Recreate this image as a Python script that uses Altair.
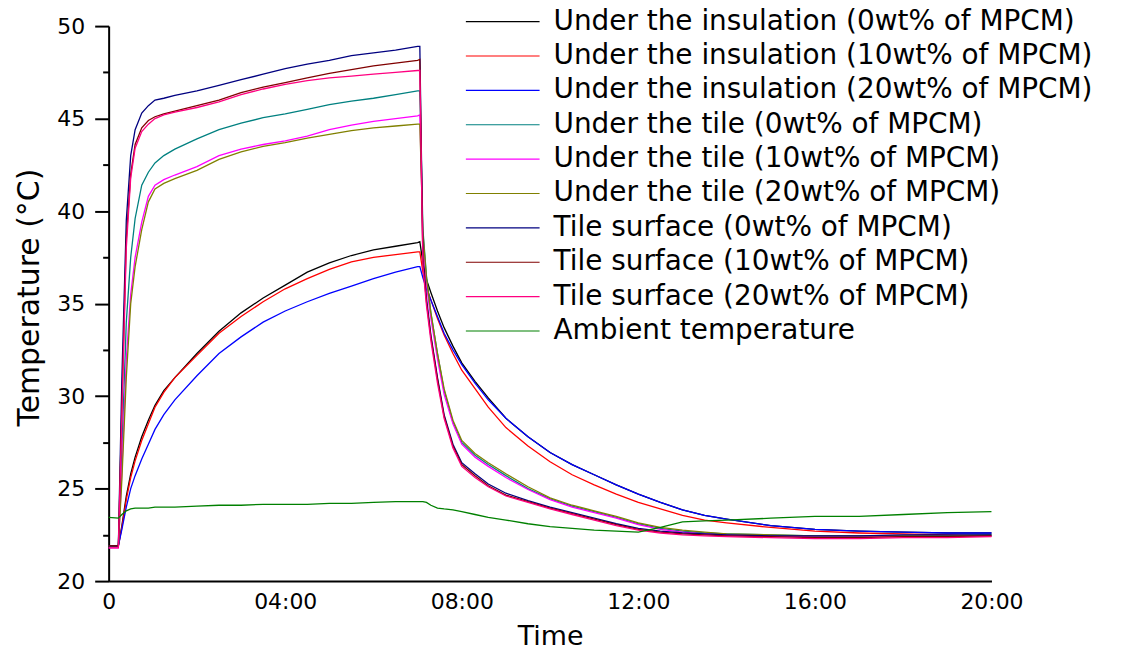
import altair as alt
import pandas as pd

# ---------------- data ----------------
hours = [0, 0.22, 0.3, 0.4, 0.5, 0.6, 0.75, 0.9, 1.05, 1.25,
         1.5, 2, 2.5, 3, 3.5, 4, 4.5, 5, 5.5, 6,
         6.5, 7.0, 7.05, 7.12, 7.2, 7.3, 7.45, 7.6, 7.8, 8.0,
         8.3, 8.6, 9.0, 9.5, 10, 10.5, 11, 11.5, 12, 12.5,
         13, 13.5, 14, 15, 16, 17, 18, 19, 20]

series_names = [
    "Under the insulation (0wt% of MPCM)",
    "Under the insulation (10wt% of MPCM)",
    "Under the insulation (20wt% of MPCM)",
    "Under the tile (0wt% of MPCM)",
    "Under the tile (10wt% of MPCM)",
    "Under the tile (20wt% of MPCM)",
    "Tile surface (0wt% of MPCM)",
    "Tile surface (10wt% of MPCM)",
    "Tile surface (20wt% of MPCM)",
    "Ambient temperature",
]

series_colors = ["#000000", "#FF0000", "#0000FF", "#008080", "#FF00FF",
                 "#808000", "#000080", "#800000", "#FF0080", "#008000"]

ins_0 = [21.9, 21.9, 23.0, 24.6, 25.8, 26.7, 27.8, 28.7, 29.5, 30.3,
         31.0, 32.3, 33.5, 34.5, 35.3, 36.0, 36.7, 37.2, 37.6, 37.9,
         38.1, 38.3, 38.35, 37.2, 36.3, 35.6, 34.6, 33.7, 32.7, 31.8,
         30.8, 29.9, 28.8, 27.8, 26.95, 26.3, 25.75, 25.2, 24.7, 24.25,
         23.85, 23.55, 23.35, 23.0, 22.8, 22.7, 22.65, 22.6, 22.6]
ins_10 = [21.9, 21.9, 22.9, 24.4, 25.6, 26.5, 27.6, 28.5, 29.4, 30.2,
          31.0, 32.2, 33.4, 34.3, 35.1, 35.8, 36.35, 36.85, 37.25, 37.5,
          37.65, 37.8, 37.8, 36.7, 35.9, 35.2, 34.2, 33.3, 32.3, 31.4,
          30.4, 29.4, 28.3, 27.3, 26.45, 25.75, 25.2, 24.7, 24.25, 23.9,
          23.55, 23.3, 23.15, 22.9, 22.7, 22.6, 22.55, 22.5, 22.45]
ins_20 = [21.9, 21.9, 22.8, 24.0, 25.0, 25.7, 26.6, 27.4, 28.2, 29.0,
          29.8, 31.1, 32.3, 33.2, 34.0, 34.6, 35.1, 35.55, 35.95, 36.35,
          36.7, 37.0, 37.0, 36.4, 35.8, 35.2, 34.3, 33.4, 32.5, 31.7,
          30.7, 29.8, 28.8, 27.8, 26.95, 26.3, 25.75, 25.2, 24.7, 24.25,
          23.85, 23.55, 23.35, 23.0, 22.8, 22.7, 22.65, 22.6, 22.6]
tile_0 = [21.9, 21.9, 27.0, 34.0, 37.5, 39.6, 41.4, 42.1, 42.6, 43.0,
          43.35, 43.9, 44.4, 44.75, 45.05, 45.25, 45.5, 45.75, 45.95, 46.1,
          46.3, 46.5, 46.5, 39.0, 36.5, 34.5, 32.3, 30.3, 28.6, 27.5,
          26.8, 26.3, 25.7, 25.0, 24.45, 24.05, 23.75, 23.45, 23.1, 22.85,
          22.7, 22.6, 22.55, 22.5, 22.45, 22.45, 22.45, 22.45, 22.5]
tile_10 = [21.8, 21.8, 26.0, 32.0, 35.5, 37.5, 39.4, 40.8, 41.4, 41.7,
           41.95, 42.4, 43.0, 43.35, 43.6, 43.8, 44.05, 44.4, 44.65, 44.85,
           45.0, 45.15, 45.2, 38.5, 36.0, 34.2, 32.0, 30.1, 28.5, 27.4,
           26.7, 26.2, 25.6, 24.95, 24.4, 24.0, 23.7, 23.4, 23.05, 22.8,
           22.65, 22.55, 22.5, 22.45, 22.4, 22.4, 22.4, 22.4, 22.45]
tile_20 = [21.9, 21.9, 25.5, 31.0, 35.0, 37.0, 39.0, 40.5, 41.2, 41.5,
           41.75, 42.2, 42.8, 43.2, 43.5, 43.7, 43.95, 44.15, 44.35, 44.5,
           44.6, 44.7, 44.7, 38.8, 36.4, 34.5, 32.3, 30.4, 28.7, 27.6,
           26.9, 26.4, 25.8, 25.1, 24.5, 24.1, 23.8, 23.5, 23.15, 22.9,
           22.75, 22.65, 22.55, 22.5, 22.45, 22.45, 22.45, 22.45, 22.5]
surf_0 = [21.9, 21.9, 31.0, 39.5, 43.0, 44.4, 45.3, 45.7, 46.0, 46.1,
          46.25, 46.5, 46.8, 47.1, 47.4, 47.7, 47.95, 48.15, 48.4, 48.55,
          48.7, 48.9, 48.9, 37.5, 35.3, 33.3, 31.0, 29.0, 27.4, 26.4,
          25.8, 25.25, 24.75, 24.35, 24.0, 23.7, 23.4, 23.1, 22.85, 22.7,
          22.6, 22.55, 22.5, 22.45, 22.45, 22.45, 22.5, 22.5, 22.5]
surf_10 = [21.9, 21.9, 29.5, 38.5, 42.0, 43.6, 44.5, 44.9, 45.1, 45.25,
           45.4, 45.7, 46.0, 46.4, 46.7, 46.95, 47.2, 47.45, 47.65, 47.85,
           48.0, 48.15, 48.2, 37.2, 35.1, 33.2, 30.9, 28.9, 27.3, 26.3,
           25.7, 25.15, 24.65, 24.3, 23.95, 23.65, 23.35, 23.05, 22.8, 22.65,
           22.55, 22.5, 22.45, 22.4, 22.35, 22.35, 22.4, 22.4, 22.45]
surf_20 = [21.8, 21.8, 29.0, 38.0, 41.8, 43.4, 44.3, 44.7, 45.0, 45.2,
           45.35, 45.6, 45.9, 46.3, 46.6, 46.85, 47.05, 47.2, 47.3, 47.4,
           47.5, 47.6, 47.6, 37.0, 34.9, 33.0, 30.7, 28.8, 27.2, 26.2,
           25.6, 25.1, 24.6, 24.25, 23.9, 23.6, 23.3, 23.0, 22.75, 22.6,
           22.5, 22.45, 22.4, 22.35, 22.3, 22.3, 22.35, 22.35, 22.4]
ambient = [23.45, 23.4, 23.6, 23.8, 23.9, 23.95, 23.95, 23.95, 24.0, 24.0,
           24.0, 24.05, 24.1, 24.1, 24.15, 24.15, 24.15, 24.2, 24.2, 24.25,
           24.3, 24.3, 24.3, 24.3, 24.25, 24.1, 23.95, 23.9, 23.85, 23.75,
           23.6, 23.45, 23.3, 23.1, 22.95, 22.85, 22.75, 22.7, 22.65, 22.9,
           23.2, 23.25, 23.3, 23.4, 23.5, 23.5, 23.6, 23.7, 23.75]

series_values = [ins_0, ins_10, ins_20, tile_0, tile_10, tile_20,
                 surf_0, surf_10, surf_20, ambient]

x_ticks = [0, 4, 8, 12, 16, 20]
y_ticks = [20, 22.5, 25, 27.5, 30, 32.5, 35, 37.5, 40, 42.5, 45, 47.5, 50]

# ---------------- table ----------------
rows = []
for name, vals in zip(series_names, series_values):
    for h, v in zip(hours, vals):
        rows.append({"series": name, "hours": h, "temp": v})
df = pd.DataFrame(rows)

FONT = "DejaVu Sans"

x_axis = alt.Axis(
    values=x_ticks,
    labelExpr="datum.value == 0 ? '0' : (datum.value < 10 ? '0' : '') + datum.value + ':00'",
    ticks=False, tickSize=0, labelPadding=11,
    labelFontSize=22, labelFont=FONT, labelColor="black",
    labelFlush=False, labelOverlap=False,
    domainColor="black", domainWidth=2, grid=False,
    title="Time", titleFont=FONT, titleFontSize=27, titleFontWeight="normal",
    titleColor="black", titleY=43, titleBaseline="top",
)

y_axis = alt.Axis(
    values=y_ticks,
    labelExpr="datum.value % 5 == 0 ? datum.label : ''",
    tickSize={"condition": {"test": "datum.value % 5 != 0", "value": 6}, "value": 14},
    tickColor="black", tickWidth=2, labelPadding=10,
    labelFontSize=22, labelFont=FONT, labelColor="black",
    labelFlush=False, labelOverlap=False,
    domainColor="black", domainWidth=2, grid=False,
    title="Temperature (°C)", titleFont=FONT, titleFontSize=30, titleFontWeight="normal",
    titleColor="black", titleX=-64, titleY=272, titleAngle=270, titleBaseline="bottom",
    titleAlign="center",
)

legend = alt.Legend(
    title=None, orient="none", legendX=358.5, legendY=-18.5, padding=0,
    symbolType="M-3,0H3", symbolSize=608, symbolStrokeWidth=1.2,
    symbolOffset=23, labelOffset=37, rowPadding=6.5,
    labelFont=FONT, labelFontSize=28, labelColor="black", labelLimit=1000,
)

chart = alt.Chart(df).mark_line(strokeWidth=1.3).encode(
    x=alt.X("hours:Q", scale=alt.Scale(domain=[0, 20], nice=False, zero=False), axis=x_axis),
    y=alt.Y("temp:Q", scale=alt.Scale(domain=[20, 50], nice=False, zero=False), axis=y_axis),
    color=alt.Color("series:N", scale=alt.Scale(domain=series_names, range=series_colors),
                    legend=legend),
).properties(
    width=886, height=557,
    autosize=alt.AutoSizeParams(type="none"),
    padding={"left": 101, "top": 17, "right": 130, "bottom": 72},
    background="white",
).configure_view(stroke=None)

chart.save("out.html", embed_options={"renderer": "svg", "actions": False})
